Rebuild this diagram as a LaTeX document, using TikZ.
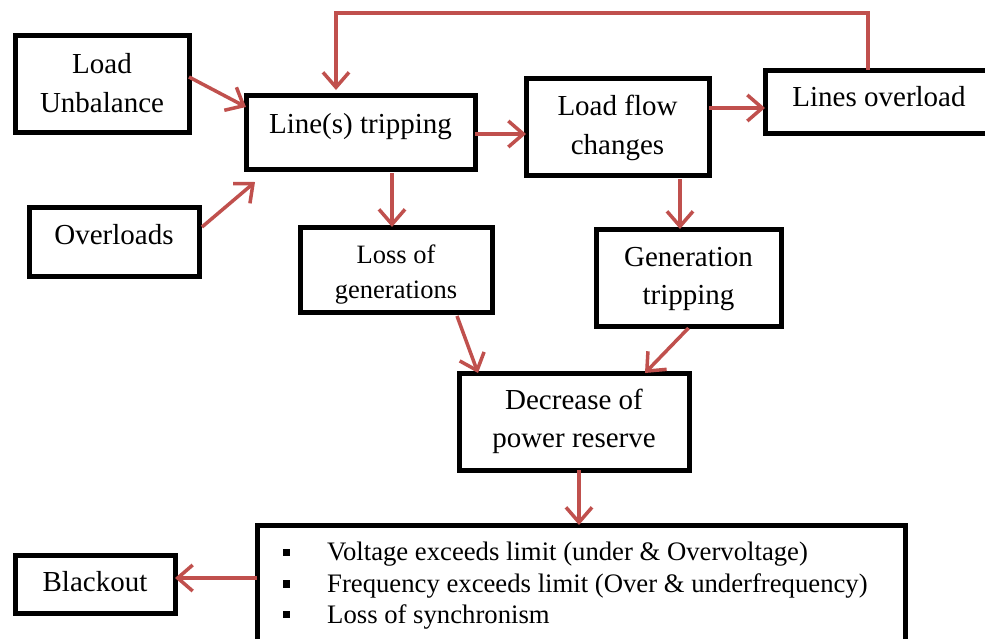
\documentclass[tikz,border=0pt]{standalone}
\usepackage{fontspec}
\setmainfont{Liberation Serif}
\usetikzlibrary{arrows.meta,calc}
\definecolor{flowred}{HTML}{C0504D}
\begin{document}
\begin{tikzpicture}[x=1pt,y=-1pt,
  box/.style={draw=black,line width=5pt,inner sep=0pt,outer sep=0pt},
  txt/.style={inner sep=0pt,align=center,font=\fontsize{29}{39}\selectfont},
  listtxt/.style={inner sep=0pt,anchor=base west,font=\fontsize{26.7}{31}\selectfont},
  arr/.style={draw=flowred,line width=3.5pt,-{Straight Barb[length=15pt,width=26pt]}},
  sq/.style={fill=black,inner sep=0pt,minimum size=7.5pt}]
\clip (0,0) rectangle (985,638);
\fill[white] (0,0) rectangle (985,638);

% boxes
\node[box,minimum width=174pt,minimum height=97pt] (lu)  at (102,83.5)  {};
\node[box,minimum width=170pt,minimum height=69pt] (ol)  at (114,241.5) {};
\node[box,minimum width=229pt,minimum height=74pt] (lt)  at (360.5,132) {};
\node[box,minimum width=183pt,minimum height=97pt] (lfc) at (617.5,126.5) {};
\node[box,minimum width=228pt,minimum height=63pt] (lo)  at (879,101.5) {};
\node[box,minimum width=192pt,minimum height=85pt] (lg)  at (396,269.5) {};
\node[box,minimum width=185pt,minimum height=97pt] (gt)  at (688.5,277.5) {};
\node[box,minimum width=230pt,minimum height=97pt] (dec) at (574,421.5) {};
\node[box,minimum width=648pt,minimum height=140pt,anchor=north] (lst) at (581,525) {};
\node[box,minimum width=160pt,minimum height=58pt] (bo)  at (95,584) {};

% box texts
\node[txt] (lu-t)  at (lu.center) {Load\\Unbalance};
\node[txt] (ol-t)  at ([yshift=6.5pt]ol.center) {Overloads};
\node[txt] (lt-t)  at ([yshift=5pt]lt.center) {Line(s) tripping};
\node[txt] (lfc-t) at ([yshift=-1.5pt]lfc.center) {Load flow\\changes};
\node[txt] (lo-t)  at ([yshift=4.5pt]lo.center) {Lines overload};
\node[txt,font=\fontsize{26.5}{35}\selectfont] (lg-t) at ([yshift=-5pt]lg.center) {Loss of\\generations};
\node[txt,font=\fontsize{29}{38}\selectfont] (gt-t)  at ([yshift=-1.5pt]gt.center) {Generation\\tripping};
\node[txt,font=\fontsize{29}{38}\selectfont] (dec-t) at (dec.center) {Decrease of\\power reserve};
\node[txt] (bo-t)  at ([yshift=2pt]bo.center) {Blackout};

% bullet list
\node[sq] (b1) at (286.5,552.5) {};
\node[sq] (b2) at (286.5,584) {};
\node[sq] (b3) at (286.5,614.5) {};
\node[listtxt] (l1) at (327,560) {Voltage exceeds limit (under \& Overvoltage)};
\node[listtxt] (l2) at (327,592) {Frequency exceeds limit (Over \& underfrequency)};
\node[listtxt] (l3) at (327,623) {Loss of synchronism};

% connectors
\coordinate (loop) at (600,13);
\draw[arr] ([yshift=6.5pt]lu.east) -- ([yshift=25pt]lt.west);
\draw[arr] ([xshift=3pt,yshift=14.5pt]ol.east) -- ([xshift=9pt,yshift=-13pt]lt.south west);
\draw[arr] ([yshift=-2pt]lt.east) -- ([yshift=-2pt]lt.east -| lfc.west);
\draw[arr] ([yshift=18.5pt]lfc.east) -- ([yshift=18.5pt]lfc.east -| lo.west);
\draw[arr] ([xshift=-11pt]lo.north) -- ([xshift=-11pt]lo.north |- loop)
           -- ([xshift=-24.5pt]lt.north |- loop) -- ([xshift=-24.5pt,yshift=5pt]lt.north);
\draw[arr] ([xshift=31.5pt,yshift=-4pt]lt.south) -- ([xshift=31.5pt]lt.south |- lg.north);
\draw[arr] ([xshift=62.5pt,yshift=-4pt]lfc.south) -- ([xshift=62.5pt]lfc.south |- gt.north);
\draw[arr] ([xshift=61pt,yshift=-4pt]lg.south) -- ([xshift=19pt]dec.north west);
\draw[arr] ([yshift=-2pt]gt.south) -- ([xshift=-44pt]dec.north east);
\draw[arr] ([xshift=5pt]dec.south) -- ([xshift=5pt]dec.south |- lst.north);
\draw[arr] ([yshift=6pt]bo.east -| lst.west) -- ([yshift=6pt]bo.east);
\end{tikzpicture}
\end{document}
